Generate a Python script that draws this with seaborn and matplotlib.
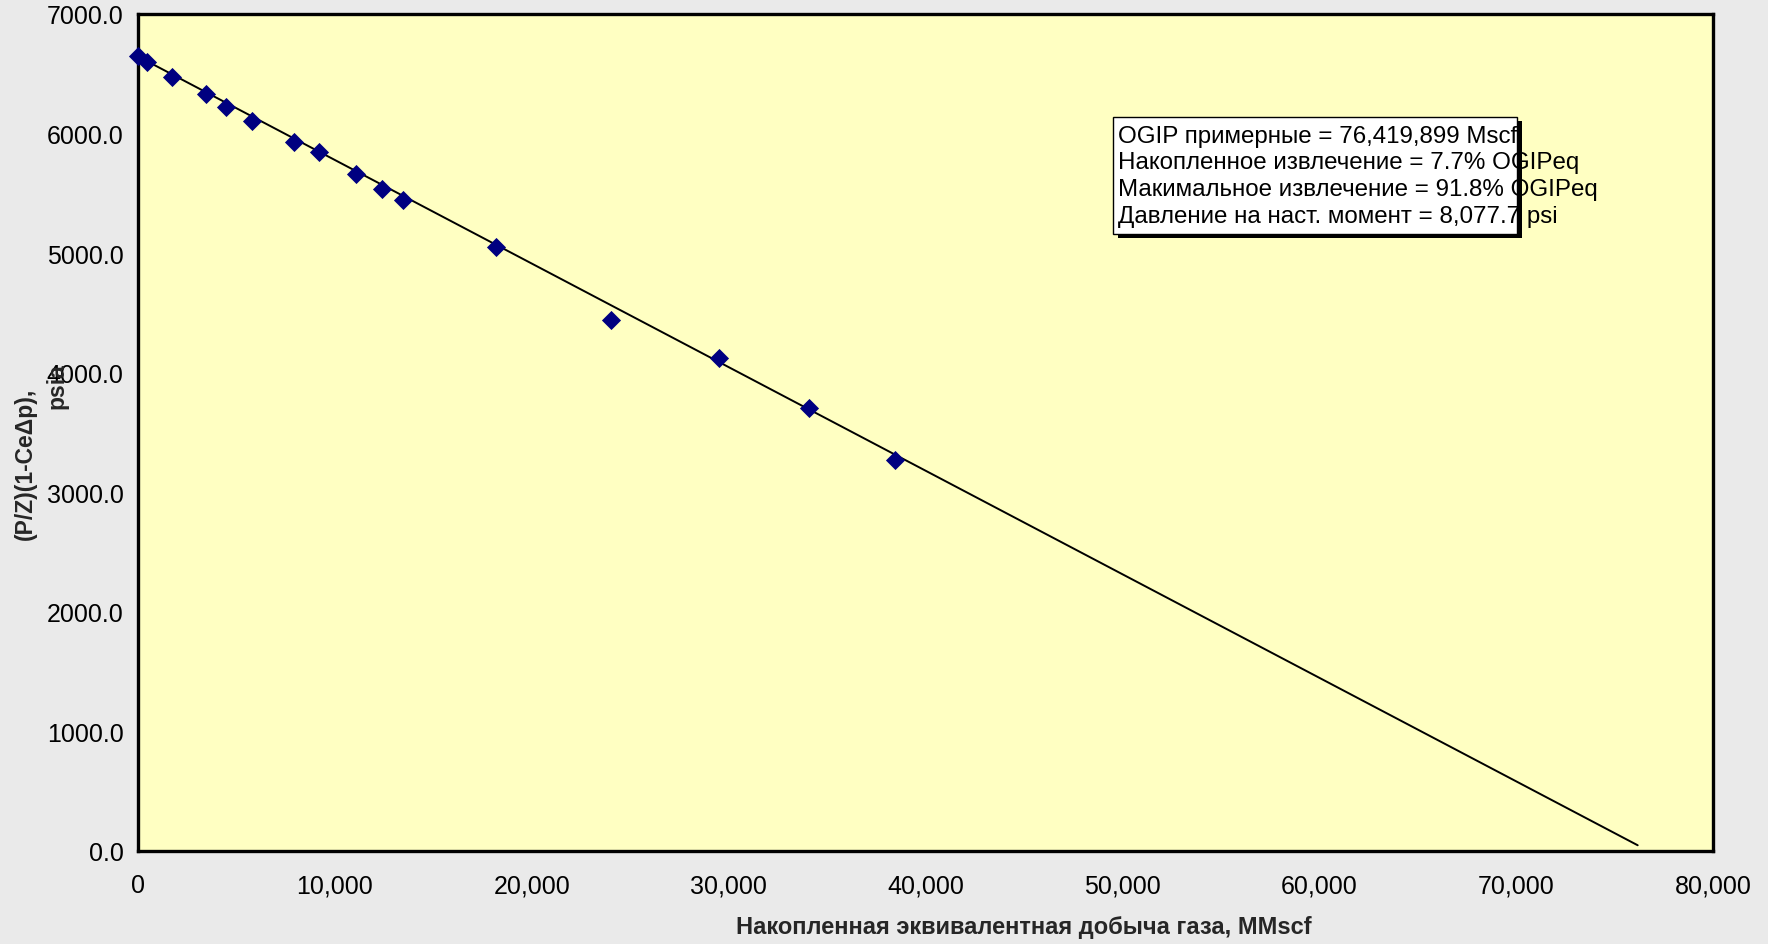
import matplotlib
matplotlib.use("Agg")
import matplotlib.pyplot as plt
import matplotlib.ticker as mticker
from matplotlib.patches import Rectangle
import seaborn as sns
import pandas as pd

# ---- data ----
cum_gas = [0, 442, 1712, 3438, 4470, 5806, 7939, 9208, 11072, 12393, 13459,
           18168, 24040, 29525, 34080, 38465]
pz_val = [6648, 6602, 6477, 6332, 6226, 6101, 5929, 5845, 5664, 5533, 5441,
          5052, 4442, 4119, 3701, 3269]
line_x = [0, 76175]
line_y = [6645, 48]
x_ticks = [0, 10000, 20000, 30000, 40000, 50000, 60000, 70000, 80000]
y_ticks = [0, 1000, 2000, 3000, 4000, 5000, 6000, 7000]
info_lines = [
    "OGIP примерные = 76,419,899 Mscf",
    "Накопленное извлечение = 7.7% OGIPeq",
    "Макимальное извлечение = 91.8% OGIPeq",
    "Давление на наст. момент = 8,077.7 psi",
]
x_label = "Накопленная эквивалентная добыча газа, MMscf"
y_label1 = "(P/Z)(1-CeΔp),"
y_label2 = "psia"

sns.set_style("white")
plt.rcParams["font.family"] = ["Liberation Sans", "DejaVu Sans"]

W, H = 1768, 945
fig = plt.figure(figsize=(W / 100, H / 100), dpi=100)
fig.patch.set_facecolor("#EAEAEA")
ax = fig.add_axes([138 / W, 1 - 852 / H, (1713 - 138) / W, (852 - 15) / H])
ax.set_facecolor("#FFFFC2")

pts = pd.DataFrame({"x": cum_gas, "y": pz_val})
ln = pd.DataFrame({"x": line_x, "y": line_y})
sns.lineplot(data=ln, x="x", y="y", ax=ax, color="black", linewidth=1.4, zorder=2)
sns.scatterplot(data=pts, x="x", y="y", ax=ax, marker="D", s=95, color="#000080",
                linewidth=0, zorder=3, clip_on=False)

ax.set_xlim(0, 80000)
ax.set_ylim(0, 7000)
ax.set_xticks(x_ticks)
ax.set_yticks(y_ticks)
ax.xaxis.set_major_formatter(mticker.FuncFormatter(lambda v, p: f"{v:,.0f}"))
ax.yaxis.set_major_formatter(mticker.FormatStrFormatter("%.1f"))
ax.tick_params(axis="both", direction="inout", length=10, width=0.9, color="black",
               labelsize=18, labelcolor="black")
ax.tick_params(axis="x", pad=11)
ax.tick_params(axis="y", pad=5.5)
for s in ax.spines.values():
    s.set_visible(True)
    s.set_color("black")
    s.set_linewidth(2.4)

ax.set_xlabel("")
ax.set_ylabel("")
fig.text(1024 / W, 1 - 928 / H, x_label, ha="center", va="center",
         fontsize=17, fontweight="bold")
fig.text(25 / W, 1 - 464 / H, y_label1, ha="center", va="center",
         rotation=90, fontsize=16.5, fontweight="bold")
fig.text(57 / W, 1 - 386 / H, y_label2, ha="center", va="center",
         rotation=90, fontsize=16.5, fontweight="bold")

# info box with shadow (text overflows the box as in reference)
bx0, by0, bx1, by1 = 1113, 118, 1517, 235
fig.patches.append(Rectangle(((bx0 + 5) / W, 1 - (by1 + 4) / H), (bx1 - bx0) / W,
                             (by1 - by0) / H, transform=fig.transFigure,
                             facecolor="black", edgecolor="none", zorder=5))
fig.patches.append(Rectangle((bx0 / W, 1 - by1 / H), (bx1 - bx0) / W,
                             (by1 - by0) / H, transform=fig.transFigure,
                             facecolor="white", edgecolor="black", linewidth=1,
                             zorder=6))
baselines = [143, 169.5, 196, 222.5]
for t, b in zip(info_lines, baselines):
    fig.text(1118 / W, 1 - b / H, t, ha="left", va="baseline", fontsize=17.4,
             color="black", zorder=7)

fig.savefig("out.png", dpi=100, facecolor=fig.get_facecolor())
